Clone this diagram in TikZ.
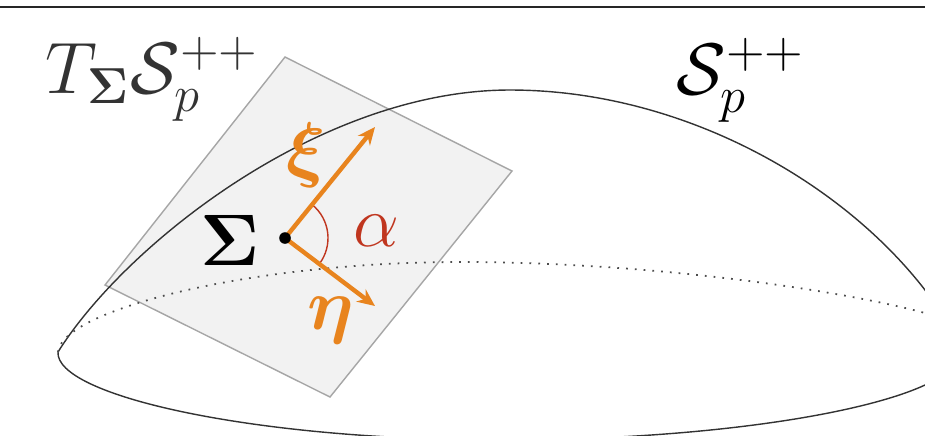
\documentclass[tikz,border=0pt]{standalone}
\usepackage{xcolor}
\usepackage{amsmath}
\usepackage{bm}
\usepackage{tikz}
\usetikzlibrary{arrows.meta}

\definecolor{vecorange}{HTML}{E8841E}
\definecolor{anglered}{HTML}{C0361F}

\begin{document}
\begin{tikzpicture}[x=0.01cm, y=-0.01cm,
    every node/.style={inner sep=0pt, font=\fontsize{19.5}{23}\selectfont},
    vec/.style={vecorange, line width=1.25pt, -{Stealth[length=5pt,width=4.4pt]}}]
            \useasboundingbox (0,0) rectangle (925,435);
            \begin{scope}
            \clip (0,0) rectangle (925,435);
            % frame line on top
            \draw[black!85, line width=0.8pt] (0,7) -- (925,7);

            % tangent plane
            \draw[black!35, fill=black!5, line width=0.4pt] (285,57) -- (512,171) -- (330,397) -- (105,285) -- cycle;

            % manifold
            \draw[black!80, line width=0.4pt] (58,352) .. controls (125,245) and (320,90) .. (510,90)
                .. controls (680,90) and (840,180) .. (925,290) -- (960,345);
            \draw[black!80, line width=0.4pt] (58,352) .. controls (55,395) and (250,440) .. (500,440)
                .. controls (700,440) and (860,415) .. (925,385);
            \draw[black!70, dotted, line width=0.5pt] (58,352) .. controls (62,310) and (250,262) .. (460,262)
                .. controls (650,262) and (840,290) .. (925,313);
            \end{scope}

            % point and tangent vectors
            \coordinate (sig) at (285,238);
            \coordinate (xitip) at (375,127);
            \coordinate (etatip) at (375,306);
            \draw[anglered, line width=0.4pt] (sig) ++(-51:43) arc[start angle=-51, end angle=37, radius=43];
            \draw[vec] (sig) -- (xitip);
            \draw[vec] (sig) -- (etatip);
            \node[circle, fill=black, minimum size=3.3pt] (sigdot) at (sig) {};

            \node[text=vecorange] (xi) at (306,155) {$\bm{\xi}$};
            \node[text=vecorange] (eta) at (331,320) {$\bm{\eta}$};
            \node[text=anglered] (alpha) at (376,231) {$\alpha$};
            \node[anchor=base west] (siglab) at (200,265) {$\bm{\Sigma}$};

            \node[anchor=base west, text=black!80] (tangent) at (45,93) {$T_{\bm{\Sigma}}\mathcal{S}_p^{++}$};
            \node[anchor=base west] (spd) at (676,94) {$\mathcal{S}_p^{++}$};
         \end{tikzpicture}
\end{document}
